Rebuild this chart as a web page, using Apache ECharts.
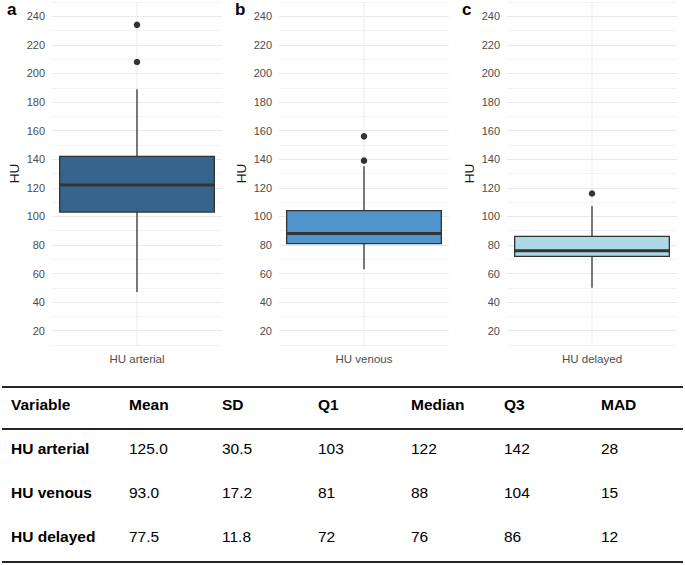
<!DOCTYPE html>
<html>
<head>
<meta charset="utf-8">
<script src="https://cdn.jsdelivr.net/npm/echarts@6/dist/echarts.min.js"></script>
<style>
  html, body { margin: 0; padding: 0; background: #ffffff; }
  #chart { width: 685px; height: 565px; }
</style>
</head>
<body>
<div id="chart"></div>
<script>
// panel data (HU values)
const variables = ["HU arterial", "HU venous", "HU delayed"];
const panelLetters = ["a", "b", "c"];
const whiskerLow = [47, 63, 50];
const q1s = [103, 81, 72];
const medians = [122, 88, 76];
const q3s = [142, 104, 86];
const whiskerHigh = [189, 135, 107];
const outliers = [[234, 208], [156, 139], [116]];
const yTicks = [20, 40, 60, 80, 100, 120, 140, 160, 180, 200, 220, 240];

// summary table
const tableHeader = ["Variable", "Mean", "SD", "Q1", "Median", "Q3", "MAD"];
const means = ["125.0", "93.0", "77.5"];
const sds = ["30.5", "17.2", "11.8"];
const mads = [28, 15, 12];

const FILLS = ["#36648B", "#4F94CD", "#ADD8E6"];
const INK = "#333333";
const FONT = "Liberation Sans, Arial, Helvetica, sans-serif";

const GRID_LEFT = [52, 279, 507];
const GRID_W = 170;

const chart = echarts.init(document.getElementById("chart"), null, { renderer: "svg" });

const grids = [], xAxes = [], yAxes = [], series = [];

variables.forEach((name, i) => {
  grids.push({ left: GRID_LEFT[i], width: GRID_W, top: 2, height: 343, containLabel: false });

  xAxes.push({
    type: "category",
    gridIndex: i,
    data: [name],
    axisLine: { show: false },
    axisTick: { show: false },
    splitLine: { show: false },
    axisLabel: { color: "#4d4d4d", fontSize: 11.5, fontFamily: FONT, margin: 8 },
  });

  yAxes.push({
    type: "value",
    gridIndex: i,
    min: 10,
    max: 250,
    interval: 10,
    name: "HU",
    nameLocation: "middle",
    nameGap: 31,
    nameTextStyle: { color: "#1a1a1a", fontSize: 13.5, fontFamily: FONT },
    axisLine: { show: false },
    axisTick: { show: false },
    axisLabel: {
      color: "#4d4d4d",
      fontSize: 11,
      fontFamily: FONT,
      margin: 7,
      formatter: (v) => (yTicks.includes(v) ? String(v) : ""),
    },
    splitLine: { lineStyle: { color: ["#f3f3f3", "#e9e9e9"], width: 1 } },
  });

  series.push({
    type: "custom",
    xAxisIndex: i,
    yAxisIndex: i,
    data: [[0, whiskerLow[i], q1s[i], medians[i], q3s[i], whiskerHigh[i]]],
    renderItem(params, api) {
      const cat = api.value(0);
      const x = api.coord([cat, api.value(3)])[0];
      const half = api.size([1, 0])[0] * 0.455;
      const y = (k) => api.coord([cat, api.value(k)])[1];
      const top = api.coord([cat, 250])[1];
      const bottom = api.coord([cat, 10])[1];
      const line = (x1, y1, x2, y2, w, c) => ({
        type: "line",
        shape: { x1, y1, x2, y2 },
        style: { stroke: c, lineWidth: w },
      });
      return {
        type: "group",
        children: [
          line(x, top, x, bottom, 1, "#ebebeb"),
          line(x, y(5), x, y(4), 1.3, INK),
          line(x, y(2), x, y(1), 1.3, INK),
          {
            type: "rect",
            shape: { x: x - half, y: y(4), width: half * 2, height: y(2) - y(4) },
            style: { fill: FILLS[i], stroke: INK, lineWidth: 1.3 },
          },
          line(x - half, y(3), x + half, y(3), 3, INK),
        ],
      };
    },
  });

  series.push({
    type: "scatter",
    xAxisIndex: i,
    yAxisIndex: i,
    symbolSize: 6.5,
    itemStyle: { color: INK, opacity: 1 },
    data: outliers[i].map((v) => [0, v]),
  });
});

// table drawn as graphic elements
const colX = [11, 129, 222, 318, 411, 504, 601];
const headerY = 404;
const rowY = [448, 492, 536];
const graphic = [];

panelLetters.forEach((letter, i) => {
  graphic.push({
    type: "text",
    left: [7, 235, 462][i],
    top: 1,
    style: { text: letter, fill: "#000", fontSize: 17, fontWeight: "bold", fontFamily: FONT },
  });
});

[387, 429, 562].forEach((yy) => {
  graphic.push({
    type: "line",
    shape: { x1: 2, y1: yy, x2: 683, y2: yy },
    style: { stroke: "#262626", lineWidth: 2 },
  });
});

const textCell = (text, x, y, bold) => ({
  type: "text",
  x,
  y,
  style: {
    text: String(text),
    fill: "#000",
    fontSize: 15.5,
    fontWeight: bold ? "bold" : "normal",
    fontFamily: FONT,
    verticalAlign: "middle",
  },
});

tableHeader.forEach((h, c) => graphic.push(textCell(h, colX[c], headerY, true)));
variables.forEach((v, r) => {
  const row = [v, means[r], sds[r], q1s[r], medians[r], q3s[r], mads[r]];
  row.forEach((cell, c) => graphic.push(textCell(cell, colX[c], rowY[r], c === 0)));
});

chart.setOption({
  backgroundColor: "#ffffff",
  animation: false,
  grid: grids,
  xAxis: xAxes,
  yAxis: yAxes,
  series,
  graphic,
});
</script>
</body>
</html>
